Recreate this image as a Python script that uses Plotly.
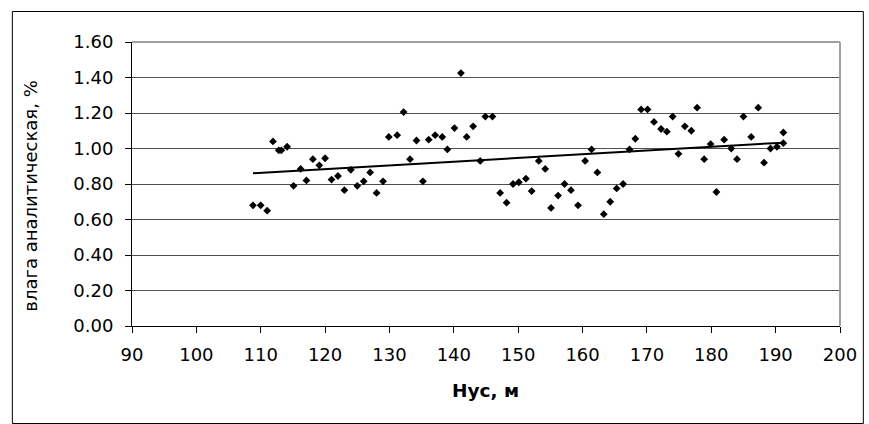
import numpy as np
import plotly.graph_objects as go

# Нус (m) and analytical moisture (%) for each sample
hus = [108.8, 110.0, 111.0, 111.9, 112.8, 113.2, 114.1, 115.1, 116.2, 117.1,
       118.1, 119.1, 120.0, 121.0, 122.0, 123.0, 124.0, 125.0, 126.0, 127.0,
       128.0, 129.0, 129.9, 131.2, 132.2, 133.2, 134.2, 135.2, 136.1, 137.1,
       138.2, 139.0, 140.1, 141.1, 142.0, 143.0, 144.1, 144.9, 146.0, 147.2,
       148.2, 149.2, 150.1, 151.2, 152.1, 153.2, 154.2, 155.1, 156.2, 157.2,
       158.2, 159.3, 160.4, 161.4, 162.3, 163.3, 164.3, 165.3, 166.3, 167.3,
       168.2, 169.1, 170.1, 171.1, 172.2, 173.1, 174.0, 174.9, 175.9, 176.9,
       177.8, 178.9, 179.9, 180.8, 182.0, 183.1, 184.0, 185.0, 186.2, 187.3,
       188.2, 189.2, 190.2, 191.2, 191.2]
moisture = [0.68, 0.68, 0.65, 1.04, 0.99, 0.99, 1.01, 0.79, 0.885, 0.82,
            0.94, 0.905, 0.945, 0.825, 0.845, 0.765, 0.88, 0.79, 0.815, 0.865,
            0.75, 0.815, 1.065, 1.075, 1.205, 0.94, 1.045, 0.815, 1.05, 1.075,
            1.065, 0.995, 1.115, 1.425, 1.065, 1.125, 0.93, 1.18, 1.18, 0.75,
            0.695, 0.80, 0.81, 0.83, 0.76, 0.93, 0.885, 0.665, 0.735, 0.80,
            0.765, 0.68, 0.93, 0.995, 0.865, 0.63, 0.70, 0.775, 0.80, 0.995,
            1.055, 1.22, 1.22, 1.15, 1.11, 1.095, 1.18, 0.97, 1.125, 1.10,
            1.23, 0.94, 1.025, 0.755, 1.05, 1.00, 0.94, 1.18, 1.065, 1.23,
            0.92, 1.00, 1.01, 1.09, 1.03]

x_ticks = [90, 100, 110, 120, 130, 140, 150, 160, 170, 180, 190, 200]
y_ticks = [0.0, 0.2, 0.4, 0.6, 0.8, 1.0, 1.2, 1.4, 1.6]
y_tick_text = ["0.00", "0.20", "0.40", "0.60", "0.80", "1.00", "1.20", "1.40", "1.60"]

# linear least-squares trend over the sample range
slope, intercept = np.polyfit(hus, moisture, 1)
trend_x = [min(hus), max(hus)]
trend_y = [slope * v + intercept for v in trend_x]

W, H = 869, 424
L, R, T, B = 132, 24, 42, 98
pw, ph = W - L - R, H - T - B


def px_x(p):
    return (p - L) / pw


def px_y(p):
    return (H - B - p) / ph


FONT = "DejaVu Sans"

fig = go.Figure()
fig.add_trace(go.Scatter(
    x=hus, y=moisture, mode="markers",
    marker=dict(symbol="diamond", size=6, color="black"),
    showlegend=False, hoverinfo="skip",
))
fig.add_trace(go.Scatter(
    x=trend_x, y=trend_y, mode="lines",
    line=dict(color="black", width=2),
    showlegend=False, hoverinfo="skip",
))

fig.update_layout(
    width=W, height=H,
    margin=dict(l=L, r=R, t=T, b=B, pad=0),
    paper_bgcolor="white", plot_bgcolor="white",
    font=dict(family=FONT, size=18, color="black"),
    xaxis=dict(
        range=[90, 200], tickvals=x_ticks, ticktext=[str(v) for v in x_ticks],
        showgrid=False, zeroline=False,
        showline=True, linecolor="black", linewidth=1,
        ticks="outside", ticklen=6, tickcolor="black", tickwidth=1,
        ticklabelstandoff=6,
        tickfont=dict(family=FONT, size=18, color="black"),
    ),
    yaxis=dict(
        range=[0, 1.6], tickvals=y_ticks, ticktext=y_tick_text,
        showgrid=True, gridcolor="#505050", gridwidth=1, zeroline=False,
        showline=True, linecolor="black", linewidth=1,
        ticks="outside", ticklen=6, tickcolor="black", tickwidth=1,
        ticklabelstandoff=8,
        tickfont=dict(family=FONT, size=18, color="black"),
    ),
    shapes=[
        # plot-area border on top and right
        dict(type="line", xref="paper", yref="paper", x0=0, x1=1, y0=1, y1=1,
             line=dict(color="#a0a0a0", width=2), layer="above"),
        dict(type="line", xref="paper", yref="paper", x0=1, x1=1, y0=0, y1=1,
             line=dict(color="#a0a0a0", width=2), layer="above"),
        # outer chart frame
        dict(type="rect", xref="paper", yref="paper",
             x0=px_x(11.5), x1=px_x(868.5), y0=px_y(423.5), y1=px_y(11.5),
             line=dict(color="black", width=1), fillcolor="rgba(0,0,0,0)",
             layer="above"),
    ],
    annotations=[
        dict(text="влага аналитическая, %", textangle=-90,
             xref="paper", yref="paper", x=px_x(30), y=px_y(196),
             xanchor="center", yanchor="middle", showarrow=False,
             font=dict(family=FONT, size=18, color="black")),
        dict(text="<b>Нус, м</b>",
             xref="paper", yref="paper", x=px_x(488), y=px_y(390),
             xanchor="center", yanchor="middle", showarrow=False,
             font=dict(family=FONT, size=18.5, color="black")),
    ],
)

fig.write_html("out.html")
